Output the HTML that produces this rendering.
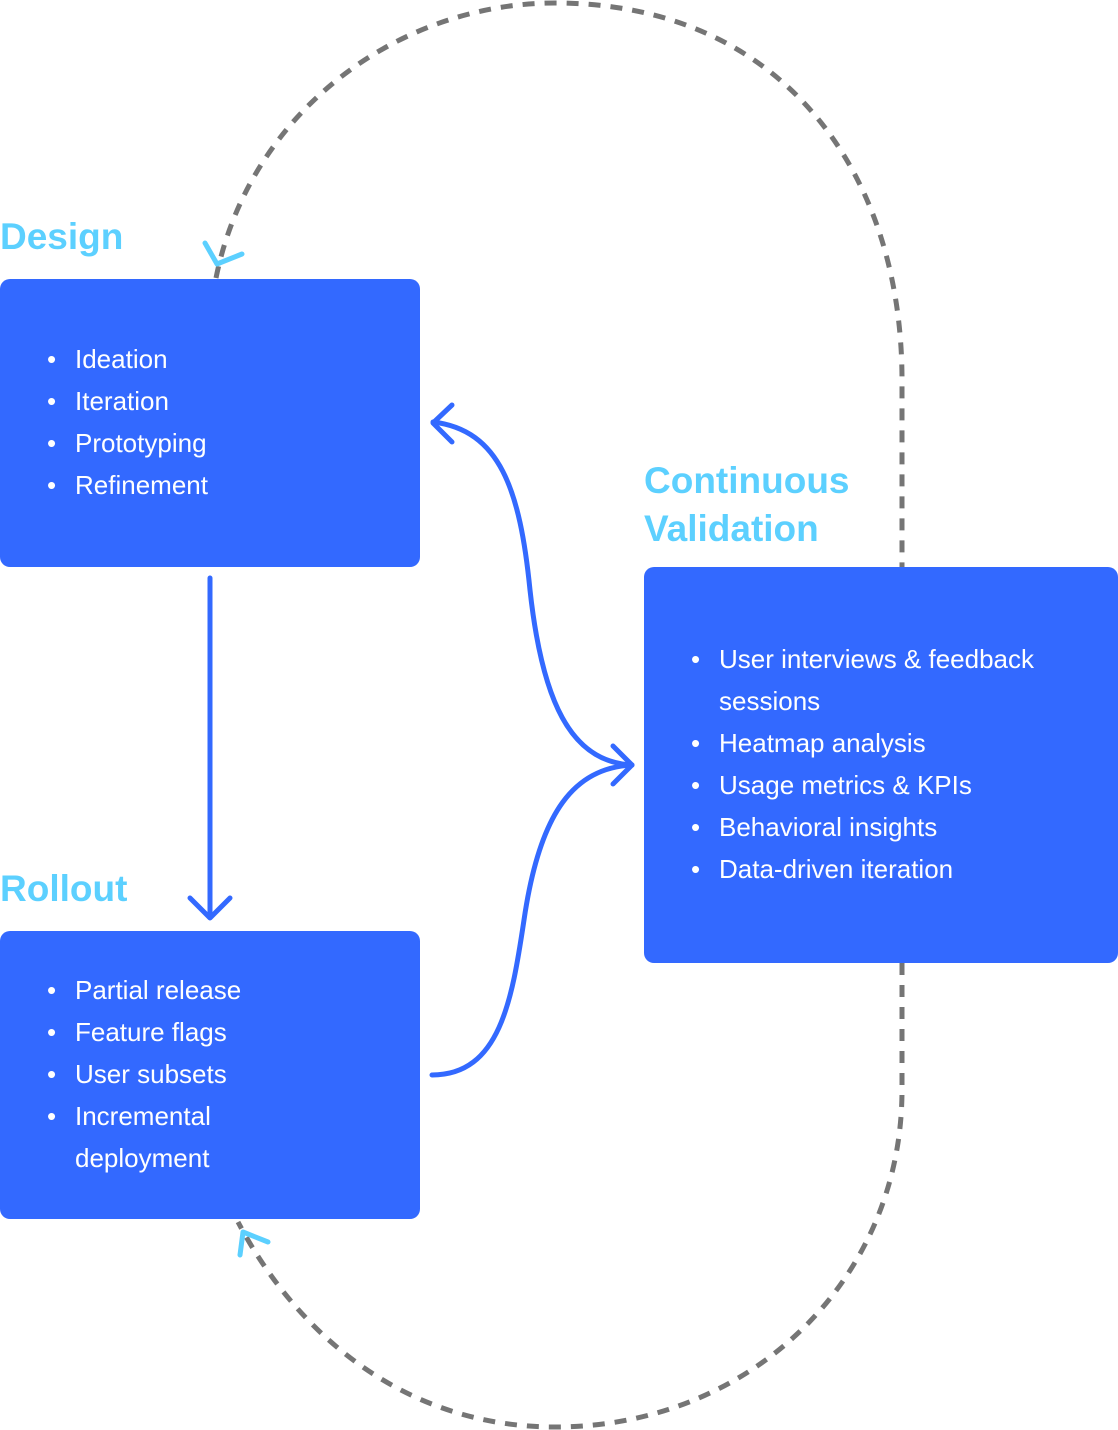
<!DOCTYPE html>
<html><head><meta charset="utf-8"><style>
html,body{margin:0;padding:0;background:#fff;}
svg{display:block}
text{font-family:"Liberation Sans",sans-serif;}
.t{fill:#fff;font-size:26px;}
.l{fill:#5cd0ff;font-size:37px;font-weight:bold;}
</style></head><body>
<svg width="1118" height="1430" viewBox="0 0 1118 1430">
<g fill="none" stroke="#757575" stroke-width="5" stroke-dasharray="12 10">
<path d="M216,278 C250,110 400,3 555,3 C780,3 902,170 902,380 L902,567"/>
<path d="M902,963 L902,1090 C902,1280 750,1427 555,1427 C410,1427 300,1340 238,1222"/>
</g>
<g fill="none" stroke="#5cd0ff" stroke-width="5" stroke-linecap="round" stroke-linejoin="round">
<path d="M205,243 L217,264 L242,254"/>
<path d="M240,1255 L243,1232 L268,1242"/>
</g>
<rect x="0" y="279" width="420" height="288" rx="10" fill="#3369ff"/>
<rect x="0" y="931" width="420" height="288" rx="10" fill="#3369ff"/>
<rect x="644" y="567" width="474" height="396" rx="10" fill="#3369ff"/>
<g fill="none" stroke="#3369ff" stroke-width="5" stroke-linecap="round" stroke-linejoin="round">
<path d="M210,578 L210,916"/>
<path d="M190,898 L210,918 L230,898"/>
<path d="M433,422 C500,430 520,490 530,590 C542,700 570,762 632,765"/>
<path d="M432,1075 C500,1075 512,1000 524,920 C540,810 575,768 632,765"/>
<path d="M452,405 L433,423 L452,442"/>
<path d="M613,746 L632,765 L613,784"/>
</g>
<text class="l" x="0" y="249">Design</text>
<text class="l" x="0" y="901">Rollout</text>
<text class="l" x="644" y="493">Continuous</text>
<text class="l" x="644" y="541">Validation</text>
<g class="t">
<text x="47" y="368">•</text><text x="75" y="368">Ideation</text>
<text x="47" y="410">•</text><text x="75" y="410">Iteration</text>
<text x="47" y="452">•</text><text x="75" y="452">Prototyping</text>
<text x="47" y="494">•</text><text x="75" y="494">Refinement</text>
<text x="47" y="999">•</text><text x="75" y="999">Partial release</text>
<text x="47" y="1041">•</text><text x="75" y="1041">Feature flags</text>
<text x="47" y="1083">•</text><text x="75" y="1083">User subsets</text>
<text x="47" y="1125">•</text><text x="75" y="1125">Incremental</text>
<text x="75" y="1167">deployment</text>
<text x="691" y="668">•</text><text x="719" y="668">User interviews &amp; feedback</text>
<text x="719" y="710">sessions</text>
<text x="691" y="752">•</text><text x="719" y="752">Heatmap analysis</text>
<text x="691" y="794">•</text><text x="719" y="794">Usage metrics &amp; KPIs</text>
<text x="691" y="836">•</text><text x="719" y="836">Behavioral insights</text>
<text x="691" y="878">•</text><text x="719" y="878">Data-driven iteration</text>
</g>
</svg>
</body></html>
